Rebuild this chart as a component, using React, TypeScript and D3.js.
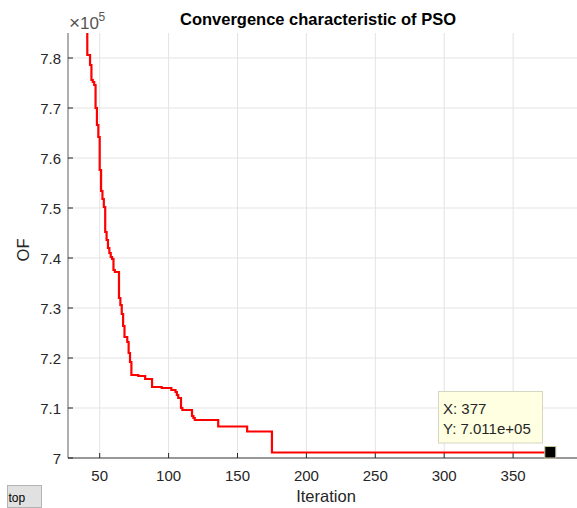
import React from "react";
import * as d3 from "d3";

// Best objective value (×1e5) at iterations where it changes (held until next change)
const changeIters = [1, 20, 35, 41, 43, 44, 45, 46, 47, 48, 49, 50, 51, 52, 53, 54, 55, 56, 57, 58, 59, 60, 61, 64, 65, 66, 67, 68, 70, 71, 72, 73, 78, 83, 88, 95, 102, 105, 106, 107, 109, 110, 117, 118, 119, 136, 157, 175, 377];
const changeValues = [8.6, 8.1, 7.95, 7.806, 7.786, 7.756, 7.752, 7.746, 7.7, 7.666, 7.642, 7.576, 7.534, 7.518, 7.502, 7.452, 7.436, 7.42, 7.41, 7.402, 7.398, 7.376, 7.372, 7.32, 7.306, 7.288, 7.264, 7.242, 7.232, 7.21, 7.192, 7.166, 7.164, 7.158, 7.142, 7.14, 7.136, 7.132, 7.126, 7.12, 7.1, 7.096, 7.084, 7.08, 7.076, 7.063, 7.053, 7.011, 7.011];

const xTicks = [50, 100, 150, 200, 250, 300, 350];
const yTicks = [7, 7.1, 7.2, 7.3, 7.4, 7.5, 7.6, 7.7, 7.8];
const yTickLabels = ["7", "7.1", "7.2", "7.3", "7.4", "7.5", "7.6", "7.7", "7.8"];

const tipX = 377;
const tipY = 7.011;
const tipLabelX = "X: 377";
const tipLabelY = "Y: 7.011e+05";

const W = 577;
const H = 508;
const left = 68;
const top = 33;
const bottom = 458;
const right = 582;

export default function App() {
  const x = d3.scaleLinear().domain([27, 400]).range([left, right]);
  const y = d3.scaleLinear().domain([7, 7.85]).range([bottom, top]);
  const pts: [number, number][] = changeIters.map((it, i) => [it, changeValues[i]]);
  const line = d3
    .line<[number, number]>()
    .x((d) => x(d[0]))
    .y((d) => y(d[1]))
    .curve(d3.curveStepAfter);
  const font = "'Liberation Sans', Arial, Helvetica, sans-serif";
  const txt = "#262626";
  return (
    <div style={{ position: "fixed", left: 0, top: 0, width: W, height: H, background: "#fff" }}>
      <svg width={W} height={H} style={{ display: "block", fontFamily: font }}>
        <defs>
          <clipPath id="plotclip">
            <rect x={left} y={top} width={W - left} height={bottom - top} />
          </clipPath>
        </defs>
        <rect x={0} y={0} width={W} height={H} fill="#fff" />
        {/* grid */}
        {xTicks.map((t) => (
          <line key={"gx" + t} x1={x(t)} x2={x(t)} y1={top} y2={bottom} stroke="#e3e3e3" strokeWidth={1} />
        ))}
        {yTicks.map((t) => (
          <line key={"gy" + t} x1={left} x2={W} y1={y(t)} y2={y(t)} stroke="#e3e3e3" strokeWidth={1} />
        ))}
        {/* axes */}
        <line x1={left} x2={left} y1={top} y2={bottom} stroke="#7a7a7a" strokeWidth={1.2} />
        <line x1={left} x2={W} y1={bottom} y2={bottom} stroke="#404040" strokeWidth={1.2} />
        {xTicks.map((t) => (
          <g key={"xt" + t}>
            <line x1={x(t)} x2={x(t)} y1={bottom} y2={bottom - 5} stroke="#262626" strokeWidth={1} />
            <text x={x(t)} y={481} textAnchor="middle" fontSize={15} fill={txt}>
              {t}
            </text>
          </g>
        ))}
        {yTicks.map((t, i) => (
          <g key={"yt" + t}>
            <line x1={left} x2={left + 5} y1={y(t)} y2={y(t)} stroke="#262626" strokeWidth={1} />
            <text x={left - 7} y={y(t) + 5.5} textAnchor="end" fontSize={15} fill={txt}>
              {yTickLabels[i]}
            </text>
          </g>
        ))}
        {/* exponent */}
        <text x={69} y={28.5} fontSize={17} fill="#555">
          <tspan fontSize={19}>×</tspan>
          <tspan>10</tspan>
        </text>
        <text x={98.5} y={21} fontSize={12} fill="#555">
          5
        </text>
        {/* data */}
        <path d={line(pts) || ""} fill="none" stroke="#ff0000" strokeWidth={2.2} clipPath="url(#plotclip)" />
        {/* title & labels */}
        <text x={318} y={25} textAnchor="middle" fontSize={16.5} fontWeight="bold" fill="#000">
          Convergence characteristic of PSO
        </text>
        <text x={326} y={502} textAnchor="middle" fontSize={16.5} fill={txt}>
          Iteration
        </text>
        <text transform="translate(28.5,250) rotate(-90)" textAnchor="middle" fontSize={16.5} fill={txt}>
          OF
        </text>
        {/* datatip */}
        <rect x={438.5} y={391.5} width={104} height={51.5} fill="#ffffe1" stroke="#d6d6c2" strokeWidth={1} />
        <text x={443} y={414} fontSize={15} fill={txt}>
          {tipLabelX}
        </text>
        <text x={443} y={434} fontSize={15} fill={txt}>
          {tipLabelY}
        </text>
        <rect x={x(tipX) - 5.5} y={y(tipY) - 6} width={11} height={11.5} fill="#000" stroke="#c8c8a0" strokeWidth={1} />
        {/* button */}
        <rect x={7.5} y={485.5} width={34} height={22} fill="#e1e1e1" stroke="#b4b4b4" strokeWidth={1} />
        <text x={8.5} y={502} fontSize={12} fill="#000">
          top
        </text>
      </svg>
    </div>
  );
}
